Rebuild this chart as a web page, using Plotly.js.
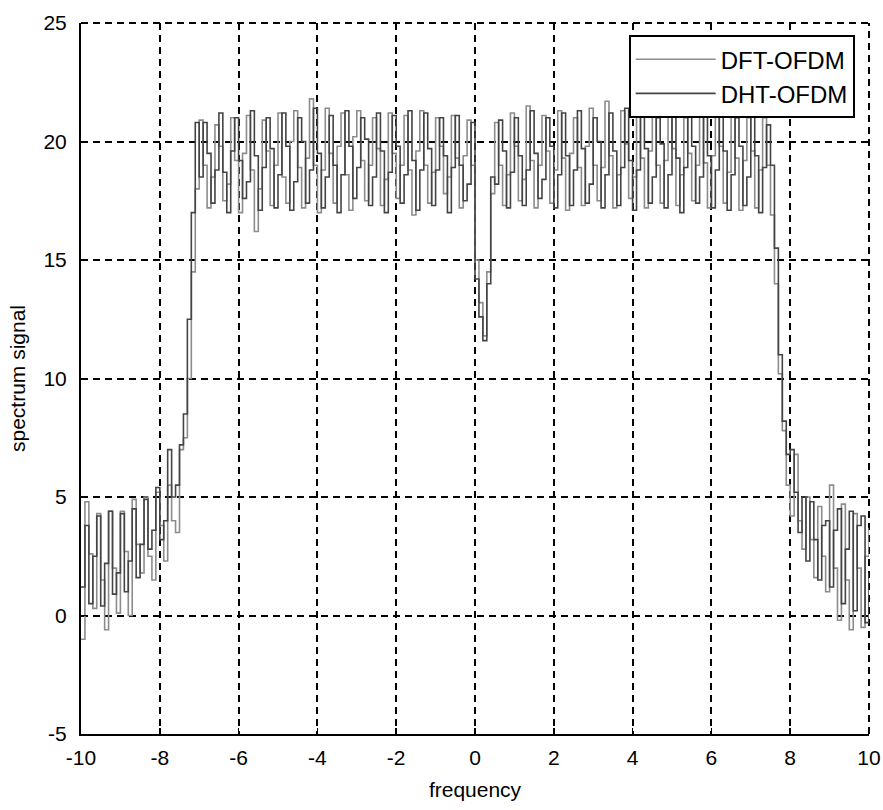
<!DOCTYPE html>
<html>
<head>
<meta charset="utf-8">
<script src="https://cdn.plot.ly/plotly-3.0.1.min.js"></script>
<style>
  html, body { margin: 0; padding: 0; background: #ffffff; }
  #chart { width: 883px; height: 810px; }
</style>
</head>
<body>
<div id="chart"></div>
<script>
// Frequency grid: starts at -10, step 0.1, 201 samples (to +10)
const freqStart = -10;
const freqStep = 0.1;

// DFT-OFDM spectrum
const dftOfdm = [
  // -10.0 .. -7.5
  -1.0, 4.8, 2.6, 0.3, 4.3, 1.5, -0.6, 4.4, 2.0, 0.1,
  4.4, 2.7, 0.0, 4.9, 3.0, 1.8, 5.0, 2.5, 1.5, 5.2,
  3.8, 2.3, 5.5, 4.0, 3.5, 7.0,
  // -7.4 .. -7.1
  7.5, 10.0, 14.5, 18.0,
  // -7.0 .. -0.1
  20.9, 19.0, 17.2, 18.5, 20.7, 19.8, 17.5, 18.2, 21.0, 19.2,
  17.0, 19.5, 21.1, 18.8, 16.2, 18.0, 20.9, 19.6, 17.3, 19.0,
  21.2, 18.5, 17.4, 20.0, 21.3, 18.9, 17.2, 19.3, 21.8, 19.0,
  17.0, 18.8, 21.4, 19.5, 17.4, 19.8, 21.2, 18.6, 17.1, 20.2,
  21.3, 19.2, 17.5, 19.0, 21.0, 19.7, 17.3, 18.4, 21.2, 19.5,
  17.6, 19.0, 21.1, 18.8, 16.9, 19.6, 21.3, 19.0, 17.4, 18.7,
  21.0, 19.8, 17.8, 18.5, 21.1, 19.3, 17.2, 19.4, 20.9, 19.0,
  // 0.0 .. 0.4
  15.0, 13.2, 11.8, 14.5, 17.8,
  // 0.5 .. 7.5
  20.8, 19.0, 17.3, 18.6, 21.2, 19.8, 17.5, 18.4, 21.5, 19.2,
  17.2, 19.0, 21.1, 19.6, 17.4, 18.8, 21.3, 19.3, 17.1, 19.5,
  21.0, 18.9, 17.3, 19.8, 21.4, 19.0, 17.5, 18.9, 21.7, 19.4,
  17.2, 18.6, 21.3, 19.9, 17.6, 18.5, 21.2, 19.3, 17.2, 19.6,
  21.1, 19.0, 17.4, 19.2, 21.4, 19.7, 17.3, 18.6, 21.0, 19.5,
  17.5, 19.0, 21.2, 19.1, 17.2, 19.4, 21.1, 19.8, 17.4, 18.7,
  21.2, 19.3, 17.1, 19.2, 21.0, 19.6, 17.2, 18.8, 21.0, 19.0, 16.9,
  // 7.6 .. 7.9
  14.0, 10.2, 7.8, 5.5,
  // 8.0 .. 10.0
  4.2, 6.8, 4.0, 2.8, 5.0, 3.2, 1.6, 4.6, 2.5, 1.0,
  5.5, 2.0, -0.2, 4.7, 1.5, -0.6, 4.3, 2.0, -0.5, 2.5, 3.7
];

// DHT-OFDM spectrum
const dhtOfdm = [
  // -10.0 .. -7.5
  1.2, 3.8, 0.5, 2.5, 4.2, 0.4, 2.2, 4.4, 0.9, 1.8,
  4.3, 1.0, 2.3, 4.5, 1.6, 3.0, 4.9, 2.8, 3.6, 5.4,
  3.2, 4.0, 7.0, 5.0, 5.5, 7.2,
  // -7.4 .. -7.1
  8.5, 12.5, 17.0, 20.8,
  // -7.0 .. -0.1
  18.5, 20.8, 19.5, 17.4, 18.8, 21.2, 18.7, 17.0, 19.6, 21.0,
  19.2, 17.6, 18.3, 21.3, 19.4, 17.1, 18.9, 21.0, 19.7, 17.2,
  18.6, 21.2, 19.8, 17.1, 18.3, 21.0, 20.0, 17.4, 18.8, 21.4,
  19.5, 17.2, 18.5, 21.1, 19.0, 17.0, 18.6, 21.3, 19.8, 17.6,
  18.9, 21.0, 20.1, 17.3, 18.5, 21.2, 19.6, 17.0, 18.7, 21.1,
  19.8, 17.4, 18.6, 21.3, 19.2, 17.1, 18.8, 21.2, 19.7, 17.3,
  18.8, 21.0, 19.4, 17.0, 18.9, 21.1, 19.0, 17.5, 18.2, 20.8,
  // 0.0 .. 0.4
  14.2, 12.6, 11.6, 14.0, 18.5,
  // 0.5 .. 7.5
  18.2, 20.9, 19.6, 17.2, 18.7, 21.0, 19.4, 17.3, 18.8, 21.3,
  19.5, 17.6, 18.4, 21.0, 19.8, 17.2, 18.6, 21.2, 19.4, 17.3,
  18.8, 21.3, 19.7, 17.4, 18.2, 21.0, 20.0, 17.2, 18.6, 21.2,
  19.6, 17.3, 18.9, 21.4, 19.2, 17.1, 18.8, 21.1, 19.7, 17.4,
  18.5, 21.0, 19.9, 17.2, 18.6, 21.3, 19.3, 17.0, 18.9, 21.2,
  19.8, 17.4, 18.5, 21.1, 19.4, 17.2, 18.8, 21.3, 19.6, 17.1,
  18.6, 21.0, 19.8, 17.3, 18.5, 21.2, 19.4, 17.0, 18.9, 20.7, 19.0,
  // 7.6 .. 7.9
  15.5, 11.0, 8.2, 6.8,
  // 8.0 .. 10.0
  7.0, 5.2, 3.5, 5.0, 2.3, 4.8, 3.2, 1.5, 3.8, 4.0,
  1.2, 3.6, 4.5, 0.5, 2.8, 4.4, 0.2, 3.8, 4.2, -0.3, 1.8
];

const seriesNames = ["DFT-OFDM", "DHT-OFDM"];
const xTickVals = [-10, -8, -6, -4, -2, 0, 2, 4, 6, 8, 10];
const xTickText = ["-10", "-8", "-6", "-4", "-2", "0", "2", "4", "6", "8", "10"];
const yTickVals = [-5, 0, 5, 10, 15, 20, 25];
const yTickText = ["-5", "0", "5", "10", "15", "20", "25"];

const FONT = '"Liberation Sans", Arial, Helvetica, sans-serif';
const GRID_DASH = '7px,5px';

const traces = [
  {
    type: 'scatter', mode: 'lines', name: seriesNames[0],
    x0: freqStart, dx: freqStep, y: dftOfdm,
    line: { color: '#8c8c8c', width: 1.6, shape: 'hv' }
  },
  {
    type: 'scatter', mode: 'lines', name: seriesNames[1],
    x0: freqStart, dx: freqStep, y: dhtOfdm,
    line: { color: '#444444', width: 1.6, shape: 'hv' }
  }
];

const axisCommon = {
  showline: true, linecolor: '#000', linewidth: 2,
  mirror: false,
  showgrid: true, gridcolor: '#000', gridwidth: 2, griddash: GRID_DASH,
  zeroline: false,
  ticks: 'inside', ticklen: 6, tickwidth: 1.5, tickcolor: '#000',
  tickfont: { family: FONT, size: 21, color: '#000' },
  tickmode: 'array'
};

const layout = {
  width: 883, height: 810,
  paper_bgcolor: '#fff', plot_bgcolor: '#fff',
  margin: { l: 81, r: 14, t: 23, b: 76 },
  showlegend: true,
  font: { family: FONT, color: '#000' },
  xaxis: Object.assign({}, axisCommon, {
    range: [-10, 10],
    tickvals: xTickVals, ticktext: xTickText,
    ticklabelstandoff: 4,
    title: { text: 'frequency', font: { family: FONT, size: 21, color: '#000' }, standoff: 14 }
  }),
  yaxis: Object.assign({}, axisCommon, {
    range: [-5, 25],
    tickvals: yTickVals, ticktext: yTickText,
    ticklabelstandoff: 8,
    title: { text: 'spectrum signal', font: { family: FONT, size: 21, color: '#000' }, standoff: 12 }
  }),
  shapes: [
    { type: 'line', xref: 'paper', yref: 'paper', x0: 0, x1: 1, y0: 1, y1: 1,
      line: { color: '#000', width: 2, dash: GRID_DASH }, layer: 'below' },
    { type: 'line', xref: 'paper', yref: 'paper', x0: 1, x1: 1, y0: 0, y1: 1,
      line: { color: '#000', width: 2, dash: GRID_DASH }, layer: 'below' }
  ],
  legend: {
    x: 0.695, xanchor: 'left', y: 0.983, yanchor: 'top',
    bgcolor: '#fff', bordercolor: '#000', borderwidth: 2,
    font: { family: FONT, size: 24, color: '#000' },
    itemwidth: 80,
    tracegroupgap: 0
  }
};

Plotly.newPlot('chart', traces, layout, { displayModeBar: false, staticPlot: true });
</script>
</body>
</html>
